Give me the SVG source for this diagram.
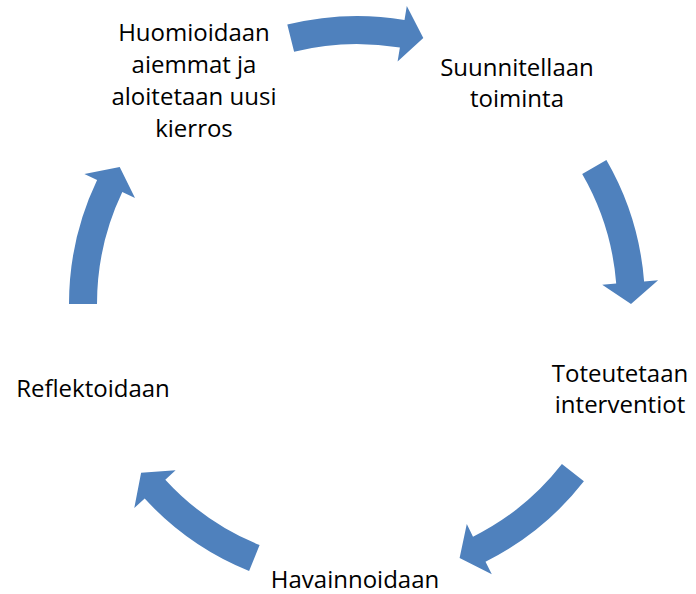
<svg xmlns="http://www.w3.org/2000/svg" width="696" height="594" viewBox="0 0 696 594">
<style>
.arr{fill:#4f81bd;stroke:none}
.lbl{font-family:"Open Sans","Liberation Sans",sans-serif;font-size:24px;fill:#000;text-anchor:middle}
</style>
<rect width="696" height="594" fill="#fff"/>
<g id="connectors">
<path class="arr" d="M287.3,24.6 A288,288 0 0 1 404.5,19.9 L406.8,6.1 L423.3,38.1 L397.6,61.4 L399.9,47.6 A260,260 0 0 0 294.1,51.7 Z"/>
<path class="arr" d="M606.4,160 A288,288 0 0 1 644.1,281.4 L658.1,280.3 L631,304 L602.2,284.7 L616.2,283.6 A260,260 0 0 0 582.2,174 Z"/>
<path class="arr" d="M583.9,481.3 A288,288 0 0 1 485.5,561.7 L491.8,574.3 L459.6,558 L466.8,524.1 L473,536.7 A260,260 0 0 0 561.9,464.1 Z"/>
<path class="arr" d="M249.1,571 A288,288 0 0 1 144.7,498.6 L134.3,508 L141.1,472.7 L175.6,470.2 L165.3,479.7 A260,260 0 0 0 259.6,545.1 Z"/>
<path class="arr" d="M69,304 A288,288 0 0 1 97.1,180 L84.4,174 L119.7,167 L135,198.1 L122.3,192.1 A260,260 0 0 0 97,304 Z"/>
</g>
<g id="node-huomioidaan">
<text class="lbl" x="194" y="41">Huomioidaan</text>
<text class="lbl" x="194" y="73">aiemmat ja</text>
<text class="lbl" x="194" y="105">aloitetaan uusi</text>
<text class="lbl" x="194" y="137">kierros</text>
</g>
<g id="node-suunnitellaan">
<text class="lbl" x="517" y="76">Suunnitellaan</text>
<text class="lbl" x="517" y="107">toiminta</text>
</g>
<g id="node-toteutetaan">
<text class="lbl" x="620" y="382">Toteutetaan</text>
<text class="lbl" x="620" y="413">interventiot</text>
</g>
<g id="node-havainnoidaan">
<text class="lbl" x="355" y="588">Havainnoidaan</text>
</g>
<g id="node-reflektoidaan">
<text class="lbl" x="93" y="397">Reflektoidaan</text>
</g>
</svg>
